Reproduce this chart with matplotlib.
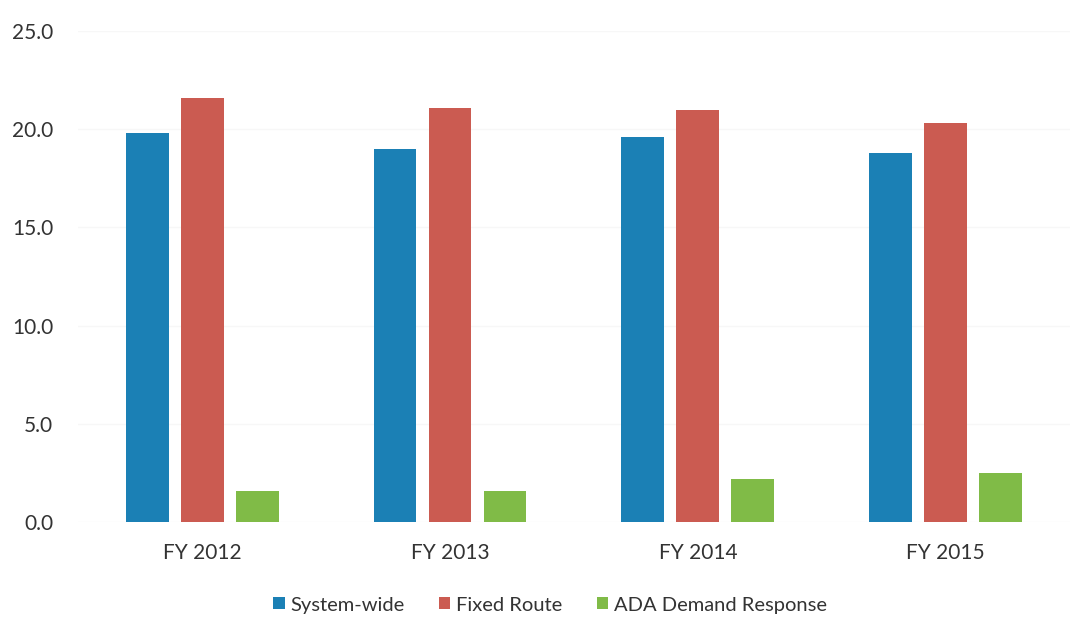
import matplotlib

matplotlib.use("Agg")
import matplotlib.pyplot as plt
import numpy as np

plt.rcParams.update({
    "font.family": ["Lato", "DejaVu Sans"],
})

years = ["FY 2012", "FY 2013", "FY 2014", "FY 2015"]
series_names = ["System-wide", "Fixed Route", "ADA Demand Response"]
system_wide = [19.8, 19.0, 19.6, 18.8]
fixed_route = [21.6, 21.1, 21.0, 20.3]
ada_demand = [1.6, 1.6, 2.2, 2.5]
y_ticks = [0, 5, 10, 15, 20, 25]

colors = ["#1b80b5", "#cb5b51", "#80bb47"]

fig = plt.figure(figsize=(10.86, 6.35), dpi=100)
ax = fig.add_axes([0.072, 0.178, 0.913, 0.773])

x = np.arange(len(years))
width = 0.173
step = 0.222
for i, (vals, name) in enumerate(zip([system_wide, fixed_route, ada_demand], series_names)):
    ax.bar(x + (i - 1) * step, vals, width, color=colors[i], label=name, zorder=2)

ax.set_xlim(-0.5, len(years) - 0.5)
ax.set_ylim(0, 25)
ax.set_yticks(y_ticks)
ax.set_yticklabels([f"{v:.1f}" for v in y_ticks])
ax.set_xticks(x)
ax.set_xticklabels(years)
ax.tick_params(axis="both", length=0, labelsize=15, colors="#333333")
ax.tick_params(axis="y", pad=18)
ax.tick_params(axis="x", pad=15)
ax.grid(axis="y", color="#f7f7f7", linewidth=1, zorder=0)
for spine in ax.spines.values():
    spine.set_visible(False)

ax.legend(loc="upper center", bbox_to_anchor=(0.476, -0.115), ncol=3, frameon=False,
          fontsize=14.5, handlelength=0.55, handleheight=0.55, handletextpad=0.3,
          columnspacing=1.7, labelcolor="#333333")

fig.savefig("out.png", dpi=100, facecolor="white")
